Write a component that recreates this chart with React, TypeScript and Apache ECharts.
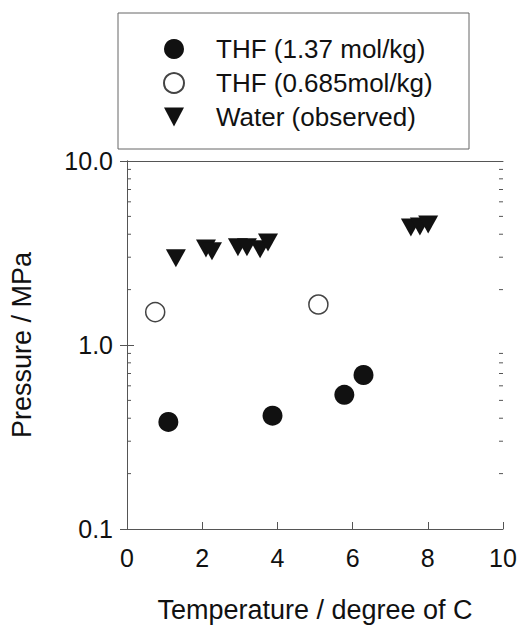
import React, { useEffect, useRef } from "react";
import * as echarts from "echarts";

const thf137Temp = [1.1, 3.87, 5.78, 6.29];
const thf137Pres = [0.382, 0.413, 0.536, 0.687];
const thf0685Temp = [0.75, 5.09];
const thf0685Pres = [1.51, 1.66];
const waterTemp = [1.3, 2.1, 2.26, 2.95, 3.19, 3.54, 3.75, 7.55, 7.79, 8.01];
const waterPres = [2.96, 3.35, 3.23, 3.4, 3.4, 3.31, 3.61, 4.35, 4.41, 4.52];
const xTicks = [0, 2, 4, 6, 8, 10];
const yMinorTicks = [0.2, 0.3, 0.4, 0.5, 0.6, 0.7, 0.8, 0.9, 2, 3, 4, 5, 6, 7, 8, 9];
const seriesNames = ["THF (1.37 mol/kg)", "THF (0.685mol/kg)", "Water (observed)"];

const FONT = "'Liberation Sans', Arial, sans-serif";
const TRI = "path://M0,0 L20,0 L10,19 Z";

export default function App() {
  const ref = useRef<HTMLDivElement>(null);
  useEffect(() => {
    if (!ref.current) return;
    const chart = echarts.init(ref.current, null, { renderer: "svg" });
    const zip = (a: number[], b: number[]) => a.map((v, i) => [v, b[i]]);
    chart.setOption({
      animation: false,
      backgroundColor: "#fff",
      textStyle: { fontFamily: FONT },
      grid: { left: 127, right: 17, top: 161, bottom: 96 },
      legend: {
        data: seriesNames,
        orient: "vertical",
        left: 158,
        top: 31,
        itemWidth: 20,
        itemHeight: 20,
        itemGap: 8,
        textStyle: {
          fontSize: 26,
          color: "#111",
          fontFamily: FONT,
          padding: [0, 0, 0, 27],
        },
        selectedMode: false,
      },
      graphic: [
        {
          type: "rect",
          shape: { x: 118, y: 13, width: 351, height: 136 },
          style: { fill: "none", stroke: "#666", lineWidth: 1 },
          silent: true,
        },
      ],
      xAxis: [
        {
          type: "value",
          min: xTicks[0],
          max: xTicks[xTicks.length - 1],
          interval: 2,
          name: "Temperature / degree of C",
          nameLocation: "middle",
          nameGap: 67,
          nameTextStyle: { fontSize: 27, color: "#111", fontFamily: FONT },
          axisLine: { show: true, lineStyle: { color: "#555", width: 1 } },
          axisTick: { show: true, inside: true, length: 7, lineStyle: { color: "#555" } },
          axisLabel: { fontSize: 25, color: "#111", margin: 16, fontFamily: FONT },
          splitLine: { show: false },
        },
        {
          type: "value",
          position: "top",
          min: 0,
          max: 10,
          axisLine: { show: true, lineStyle: { color: "#555", width: 1 } },
          axisTick: { show: false },
          axisLabel: { show: false },
          splitLine: { show: false },
        },
      ],
      yAxis: [
        {
          type: "log",
          logBase: 10,
          min: 0.1,
          max: 10,
          name: "Pressure / MPa",
          nameLocation: "middle",
          nameGap: 92,
          nameRotate: 90,
          nameTextStyle: { fontSize: 27, color: "#111", fontFamily: FONT },
          axisLine: { show: true, lineStyle: { color: "#555", width: 1 } },
          axisTick: { show: true, inside: true, length: 7, lineStyle: { color: "#555" } },
          axisLabel: {
            fontSize: 25,
            color: "#111",
            margin: 14,
            fontFamily: FONT,
            formatter: (v: number) => v.toFixed(1),
          },
          splitLine: { show: false },
        },
        {
          type: "log",
          logBase: 10,
          min: 0.1,
          max: 10,
          position: "right",
          axisLine: { show: true, lineStyle: { color: "#555", width: 1 } },
          axisTick: { show: true, inside: true, length: 7, lineStyle: { color: "#555" } },
          axisLabel: { show: false },
          splitLine: { show: false },
        },
      ],
      series: [
        {
          type: "custom",
          silent: true,
          data: yMinorTicks.map((v) => [0, v]),
          renderItem: (params: any, api: any) => {
            const v = api.value(1);
            const pl = api.coord([0, v]);
            const pr = api.coord([10, v]);
            return {
              type: "group",
              children: [
                { type: "line", shape: { x1: pl[0], y1: pl[1], x2: pl[0] + 4, y2: pl[1] }, style: { stroke: "#555", lineWidth: 1 } },
                { type: "line", shape: { x1: pr[0], y1: pr[1], x2: pr[0] - 4, y2: pr[1] }, style: { stroke: "#555", lineWidth: 1 } },
              ],
            };
          },
          z: 1,
        },
        {
          name: seriesNames[0],
          type: "scatter",
          data: zip(thf137Temp, thf137Pres),
          symbol: "circle",
          symbolSize: 20,
          itemStyle: { color: "#111", borderColor: "#111", borderWidth: 0, opacity: 1 },
          z: 3,
        },
        {
          name: seriesNames[1],
          type: "scatter",
          data: zip(thf0685Temp, thf0685Pres),
          symbol: "circle",
          symbolSize: 19,
          itemStyle: { color: "#fff", borderColor: "#444", borderWidth: 1.5, opacity: 1 },
          z: 3,
        },
        {
          name: seriesNames[2],
          type: "scatter",
          data: zip(waterTemp, waterPres),
          symbol: TRI,
          symbolSize: [20, 18],
          itemStyle: { color: "#111", opacity: 1 },
          z: 3,
        },
      ],
    });
    return () => chart.dispose();
  }, []);
  return (
    <div
      ref={ref}
      style={{ position: "absolute", left: 0, top: 0, width: 520, height: 628 }}
    />
  );
}
